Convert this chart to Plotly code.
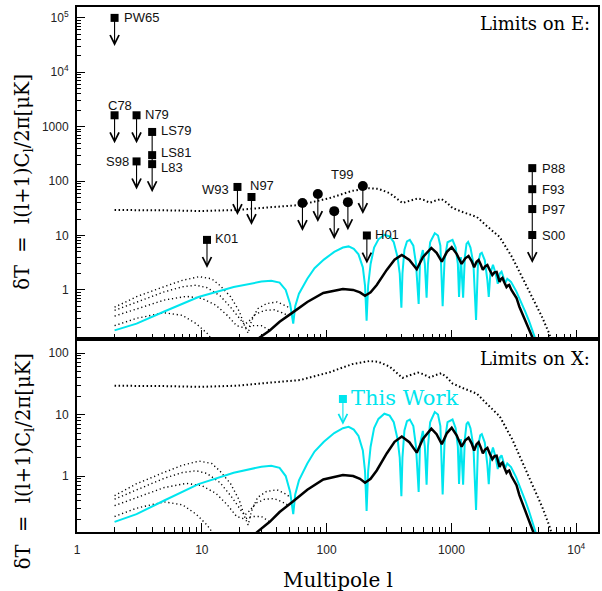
import numpy as np
import plotly.graph_objects as go
from plotly.subplots import make_subplots

# ---------------- data ----------------
# temperature (dotted) spectrum
tt_l = [2, 3, 5, 9.8, 19, 35, 61, 106, 160, 220, 260, 320, 405, 470, 540, 600, 670, 750, 830, 920, 1020, 1230, 1600, 1920, 2430, 3060, 3680, 4420, 5310, 6050, 6600]
tt_v = [29.4, 29.4, 29, 28.2, 29.4, 33, 36.3, 48.8, 66, 74, 72, 60, 39.5, 44, 48, 45, 40, 44, 47, 40, 32, 27, 21.8, 14.9, 9.4, 4.0, 1.73, 0.74, 0.32, 0.16, 0.09]

# E polarization (black solid)
ee_l = [25, 28, 35, 42, 54, 70, 94, 115, 135, 163, 185, 203, 225, 252, 303, 350, 400, 460, 527, 590, 690, 760, 837, 920, 1005, 1100, 1206, 1290, 1370, 1450, 1520, 1590, 1650, 1720, 1785, 1860, 1940, 2030, 2125, 2210, 2300, 2370, 2430, 2500, 2560, 2660, 2760, 2830, 2900, 3020, 3130, 3320, 3500, 3790, 4080, 4380, 4700]
ee_v = [0.1, 0.125, 0.18, 0.26, 0.39, 0.6, 0.88, 0.98, 1.04, 1.0, 0.9, 0.78, 0.9, 1.23, 2.33, 3.6, 4.4, 3.55, 2.4, 4.0, 5.9, 4.8, 3.3, 5.0, 6.1, 4.6, 3.0, 3.8, 4.2, 3.4, 2.6, 3.3, 3.55, 2.9, 2.33, 2.7, 2.87, 2.3, 1.88, 2.1, 2.14, 1.7, 1.4, 1.6, 1.66, 1.35, 1.13, 1.2, 1.23, 1.0, 0.88, 0.71, 0.49, 0.32, 0.21, 0.15, 0.1]

# temperature-polarization cross (cyan)
te_l = [2, 3, 5, 9.4, 18, 30, 36, 42, 47, 51, 54, 56, 60, 70, 80, 95, 115, 135, 150, 165, 180, 195, 203, 209, 215, 225, 240, 260, 290, 320, 345, 370, 385, 397, 405, 420, 440, 464, 495, 520, 546, 560, 590, 612, 632, 648, 675, 735, 780, 815, 850, 880, 930, 1020, 1080, 1125, 1150, 1190, 1240, 1280, 1320, 1360, 1420, 1500, 1574, 1630, 1700, 1750, 1850, 1940, 1990, 2050, 2150, 2260, 2350, 2440, 2520, 2620, 2700, 2800, 3000, 3300, 3600, 3900, 4200, 4500, 4800]
te_v = [0.18, 0.24, 0.4, 0.74, 1.13, 1.42, 1.47, 1.36, 1.0, 0.55, 0.24, 0.5, 0.85, 1.6, 2.5, 3.6, 5.0, 6.0, 6.3, 5.7, 4.5, 2.6, 1.2, 0.27, 1.2, 3.0, 6.0, 8.5, 10.3, 9.6, 7.5, 4.0, 2.0, 0.47, 2.0, 5.5, 7.8, 8.3, 6.5, 3.0, 0.55, 3.3, 5.4, 3.0, 0.72, 3.0, 7.5, 11, 10, 6.5, 0.5, 3.5, 7.5, 8.3, 6.0, 3.0, 0.74, 4.0, 0.72, 4.0, 7.0, 7.6, 6.0, 3.0, 0.28, 3.0, 4.6, 4.8, 3.5, 1.5, 0.74, 2.0, 2.9, 2.0, 1.3, 2.0, 2.17, 1.6, 1.34, 1.6, 1.4, 0.95, 0.62, 0.40, 0.26, 0.17, 0.11]

# reionization E-mode curves (dotted)
re_l = [
    [2, 3, 5, 7, 9.5, 12, 14, 17, 20, 22, 23.5, 25, 28, 33, 40, 48, 55],
    [2, 3, 5, 7, 9, 11, 14, 17, 20, 22, 24, 27, 32, 38, 44, 50],
    [2, 3, 5, 7.5, 10, 13, 16, 19, 22, 25, 30, 35],
    [2, 3, 5, 7, 9, 11, 13],
]
re_v = [
    [0.48, 0.75, 1.15, 1.5, 1.75, 1.6, 1.2, 0.75, 0.4, 0.22, 0.16, 0.27, 0.45, 0.56, 0.6, 0.5, 0.39],
    [0.42, 0.6, 0.92, 1.14, 1.22, 1.1, 0.78, 0.48, 0.3, 0.23, 0.27, 0.36, 0.42, 0.43, 0.38, 0.33],
    [0.33, 0.45, 0.65, 0.76, 0.7, 0.52, 0.34, 0.22, 0.2, 0.22, 0.22, 0.18],
    [0.22, 0.3, 0.38, 0.34, 0.24, 0.16, 0.1],
]

# experimental upper limits (squares)
sq_names = ["PW65", "C78", "N79", "S98", "LS79", "LS81", "L83", "W93", "N97", "K01", "H01", "P88", "F93", "P97", "S00"]
sq_l = [2, 2, 3, 3, 4, 4, 4, 19.3, 25, 11, 210, 4440, 4440, 4440, 4440]
sq_lim = [1e5, 1620, 1620, 230, 800, 300, 205, 78, 51, 8.3, 10, 173, 71, 30.6, 10.2]
# experiments sharing a single arrow
arrow_groups = [["PW65"], ["C78"], ["N79"], ["S98"], ["LS79", "LS81", "L83"], ["W93"], ["N97"], ["K01"], ["H01"], ["P88", "F93", "P97", "S00"]]

# circle limits (T99)
ci_l = [64, 85, 115, 148, 195]
ci_lim = [39.5, 58, 28, 41, 81]

# this work (lower panel)
tw_l = [135]
tw_lim = [17.9]

# label placement (style): anchor, xshift, yshift
lab_style = {
    "PW65": ("left", 7, 0), "C78": ("center", 5, 10), "N79": ("left", 6, 1), "S98": ("right", -6, 0),
    "LS79": ("left", 7, 1), "LS81": ("left", 7, 3), "L83": ("left", 7, -3), "W93": ("right", -6, -3),
    "N97": ("left", -3, 11), "K01": ("left", 6, 1), "H01": ("left", 6, 1),
    "P88": ("left", 8, 0), "F93": ("left", 8, 0), "P97": ("left", 8, 0), "S00": ("left", 8, 0),
}

# ---------------- figure ----------------
fig = make_subplots(rows=2, cols=1, shared_xaxes=False, vertical_spacing=0,
                    row_heights=[0.6324, 0.3676])

CYAN = "#00e5ee"
for r in (1, 2):
    fig.add_trace(go.Scatter(x=tt_l, y=tt_v, mode="lines", line=dict(color="black", width=2, dash="1.5px,2.5px"),
                             showlegend=False, hoverinfo="skip"), row=r, col=1)
    for ll, vv in zip(re_l, re_v):
        fig.add_trace(go.Scatter(x=ll, y=vv, mode="lines", line=dict(color="black", width=1.4, dash="1.2px,2.8px"),
                                 showlegend=False, hoverinfo="skip"), row=r, col=1)
    fig.add_trace(go.Scatter(x=te_l, y=te_v, mode="lines", line=dict(color=CYAN, width=2),
                             showlegend=False, hoverinfo="skip"), row=r, col=1)
    fig.add_trace(go.Scatter(x=ee_l, y=ee_v, mode="lines", line=dict(color="black", width=2.5),
                             showlegend=False, hoverinfo="skip"), row=r, col=1)

ARROW_DEC_UP = 0.515   # arrow length in decades (upper panel)
ARROW_DEC_LO = 0.42

annotations = []
lut = dict(zip(sq_names, zip(sq_l, sq_lim)))
for grp in arrow_groups:
    l0 = lut[grp[0]][0]
    vals = [lut[n][1] for n in grp]
    annotations.append(dict(x=np.log10(l0), y=np.log10(min(vals)) - ARROW_DEC_UP,
                            ax=np.log10(l0), ay=np.log10(max(vals)), xref="x", yref="y", axref="x", ayref="y",
                            showarrow=True, arrowhead=5, arrowsize=1.6, arrowwidth=1.1, arrowcolor="black", text=""))
for l0, v0 in zip(ci_l, ci_lim):
    annotations.append(dict(x=np.log10(l0), y=np.log10(v0) - ARROW_DEC_UP,
                            ax=np.log10(l0), ay=np.log10(v0), xref="x", yref="y", axref="x", ayref="y",
                            showarrow=True, arrowhead=5, arrowsize=1.6, arrowwidth=1.1, arrowcolor="black", text=""))
for l0, v0 in zip(tw_l, tw_lim):
    annotations.append(dict(x=np.log10(l0), y=np.log10(v0) - ARROW_DEC_LO,
                            ax=np.log10(l0), ay=np.log10(v0), xref="x2", yref="y2", axref="x2", ayref="y2",
                            showarrow=True, arrowhead=5, arrowsize=1.6, arrowwidth=1.1, arrowcolor=CYAN, text=""))

fig.add_trace(go.Scatter(x=sq_l, y=sq_lim, mode="markers", marker=dict(symbol="square", size=8, color="black"),
                         showlegend=False, hoverinfo="skip"), row=1, col=1)
fig.add_trace(go.Scatter(x=ci_l, y=ci_lim, mode="markers", marker=dict(symbol="circle", size=10, color="black"),
                         showlegend=False, hoverinfo="skip"), row=1, col=1)
fig.add_trace(go.Scatter(x=tw_l, y=tw_lim, mode="markers", marker=dict(symbol="square", size=8, color=CYAN),
                         showlegend=False, hoverinfo="skip"), row=2, col=1)

LABF = dict(family="Liberation Sans, Arial", size=13, color="#111")
for n, l0, v0 in zip(sq_names, sq_l, sq_lim):
    anc, xs, ys = lab_style[n]
    annotations.append(dict(x=np.log10(l0), y=np.log10(v0), xref="x", yref="y", text=n, showarrow=False,
                            xanchor=anc, yanchor="middle", xshift=xs, yshift=ys, font=LABF))
annotations.append(dict(x=np.log10(ci_l[-1]), y=np.log10(ci_lim[-1]), xref="x", yref="y", text="T99",
                        showarrow=False, xanchor="center", yanchor="middle", xshift=-21, yshift=12, font=LABF))
annotations.append(dict(x=np.log10(tw_l[0]), y=np.log10(tw_lim[0]), xref="x2", yref="y2", text="This Work",
                        showarrow=False, xanchor="left", yanchor="middle", xshift=6, yshift=1,
                        font=dict(family="DejaVu Serif", size=21, color=CYAN)))

SERIF = "DejaVu Serif"
annotations.append(dict(x=1, y=1, xref="x domain", yref="y domain", text="Limits on E:", showarrow=False,
                        xanchor="right", yanchor="middle", xshift=-6, yshift=-16, font=dict(family=SERIF, size=18, color="black")))
annotations.append(dict(x=1, y=1, xref="x2 domain", yref="y2 domain", text="Limits on X:", showarrow=False,
                        xanchor="right", yanchor="middle", xshift=-6, yshift=-19, font=dict(family=SERIF, size=18, color="black")))
ytitle = "δT  =  l(l+1)C<sub>l</sub>/2π[μK]"
annotations.append(dict(x=0, y=0.667, xref="paper", yref="paper", text=ytitle, textangle=-90, showarrow=False,
                        xanchor="center", yanchor="middle", xshift=-53, font=dict(family=SERIF, size=19.5, color="black")))
annotations.append(dict(x=0, y=0.135, xref="paper", yref="paper", text=ytitle, textangle=-90, showarrow=False,
                        xanchor="center", yanchor="middle", xshift=-53, font=dict(family=SERIF, size=19.5, color="black")))
annotations.append(dict(x=0.5, y=0, xref="paper", yref="paper", text="Multipole l", showarrow=False,
                        xanchor="center", yanchor="middle", yshift=-48, font=dict(family=SERIF, size=20, color="black")))

minor_x = [m * 10 ** d for d in range(0, 5) for m in range(2, 10)]
minor_y = [m * 10 ** d for d in range(-1, 6) for m in range(2, 10)]
TICKF = dict(family="Liberation Sans, Arial", size=12, color="#222")

xcommon = dict(type="log", range=[0, 4.174], showgrid=False, zeroline=False, showline=True, linecolor="black",
               linewidth=2, mirror=True, ticks="inside", ticklen=9, tickwidth=1, tickcolor="black",
               tickvals=[1, 10, 100, 1000, 10000], ticktext=["1", "10", "100", "1000", "10<sup>4</sup>"],
               minor=dict(tickvals=minor_x, ticks="inside", ticklen=5, tickcolor="black", tickwidth=1, showgrid=False),
               tickfont=TICKF)
fig.update_xaxes(**xcommon)
fig.update_xaxes(showticklabels=False, row=1, col=1)
fig.update_xaxes(ticklabelstandoff=6, row=2, col=1)

ycommon = dict(type="log", showgrid=False, zeroline=False, showline=True, linecolor="black", linewidth=2,
               mirror=True, ticks="inside", ticklen=8, tickwidth=1, tickcolor="black",
               minor=dict(tickvals=minor_y, ticks="inside", ticklen=4, tickcolor="black", tickwidth=1, showgrid=False),
               tickfont=TICKF, ticklabelstandoff=4)
fig.update_yaxes(**ycommon)
fig.update_yaxes(range=[-0.903, 5.2], tickvals=[1, 10, 100, 1000, 1e4, 1e5],
                 ticktext=["1", "10", "100", "1000", "10<sup>4</sup>", "10<sup>5</sup>"], row=1, col=1)
fig.update_yaxes(range=[-0.91, 2.228], tickvals=[1, 10, 100], ticktext=["1", "10", "100"], row=2, col=1)

fig.update_layout(width=602, height=591, margin=dict(l=77, r=2, t=7, b=59), plot_bgcolor="white",
                  paper_bgcolor="white", annotations=annotations, showlegend=False)
fig.write_html("out.html")
